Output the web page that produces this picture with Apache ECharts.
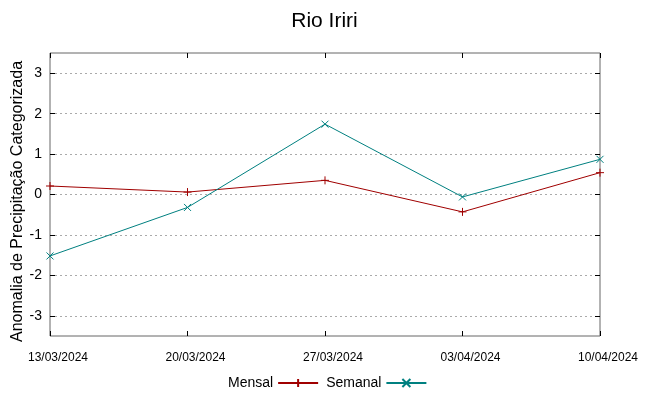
<!DOCTYPE html>
<html><head><meta charset="utf-8">
<script src="https://cdn.jsdelivr.net/npm/echarts@6/dist/echarts.min.js"></script>
<style>html,body{margin:0;padding:0;background:#fff}#c{width:649px;height:396px}</style>
</head><body><div id="c"></div>
<script>
const categories = ['13/03/2024','20/03/2024','27/03/2024','03/04/2024','10/04/2024'];
const mensal = [0.21, 0.06, 0.35, -0.43, 0.54];
const semanal = [-1.52, -0.32, 1.74, -0.06, 0.87];
const yTicks = [-3, -2, -1, 0, 1, 2, 3];

const sans = "'Liberation Sans',Arial,sans-serif";
const plusPath = 'path://M0,5L10,5M5,0L5,10';
const crossPath = 'path://M0,0L10,10M10,0L0,10';

const chart = echarts.init(document.getElementById('c'));
chart.setOption({
  animation: false,
  backgroundColor: '#fff',
  title: { text: 'Rio Iriri', left: 'center', top: 6,
    textStyle: { fontFamily: sans, fontSize: 21, fontWeight: 'normal', color: '#000' } },
  grid: { left: 50, right: 49, top: 53, bottom: 60, show: true, borderColor: '#666', borderWidth: 1,
    outerBoundsMode: 'none', containLabel: false },
  legend: {
    bottom: 1, left: 223, align: 'right', itemWidth: 40, itemHeight: 10, itemGap: 7,
    textStyle: { fontFamily: sans, fontSize: 14, color: '#000' },
    data: ['Mensal', 'Semanal']
  },
  xAxis: [{
    type: 'category', data: categories, boundaryGap: false,
    axisLine: { show: false, onZero: false },
    axisTick: { show: true, inside: true, length: 5, lineStyle: { color: '#000' } },
    axisLabel: { fontFamily: sans, fontSize: 12, color: '#000', margin: 16, padding: [0, 0, 0, 16] },
    splitLine: { show: false }
  }, {
    type: 'category', data: categories, boundaryGap: false, position: 'top',
    axisLine: { show: false, onZero: false },
    axisTick: { show: true, inside: true, length: 5, lineStyle: { color: '#000' } },
    axisLabel: { show: false }, splitLine: { show: false }
  }],
  yAxis: [{
    type: 'value', min: -3.5, max: 3.5, interval: 0.5,
    name: 'Anomalia de Precipitação Categorizada', nameLocation: 'middle', nameRotate: 90, nameGap: 24,
    nameMoveOverlap: false,
    nameTextStyle: { fontFamily: sans, fontSize: 16, color: '#000', padding: [0, 14, 0, 0] },
    axisLine: { show: false, onZero: false },
    axisTick: { show: true, inside: true, length: 5, customValues: yTicks, lineStyle: { color: '#000' } },
    axisLabel: { customValues: yTicks, fontFamily: sans, fontSize: 14, color: '#000', margin: 8 },
    splitLine: { show: true, lineStyle: { color: '#aaa', type: [2, 3] } }
  }, {
    type: 'value', min: -3.5, max: 3.5, interval: 0.5, position: 'right',
    axisLine: { show: false, onZero: false },
    axisTick: { show: true, inside: true, length: 5, customValues: yTicks, lineStyle: { color: '#000' } },
    axisLabel: { show: false }, splitLine: { show: false }
  }],
  series: [{
    name: 'Mensal', type: 'line', data: mensal, symbol: plusPath, symbolSize: 8,
    lineStyle: { color: '#a00000', width: 1 },
    itemStyle: { color: 'rgba(0,0,0,0)', borderColor: '#a00000', borderWidth: 1 }
  }, {
    name: 'Semanal', type: 'line', data: semanal, symbol: crossPath, symbolSize: 7,
    lineStyle: { color: '#008080', width: 1 },
    itemStyle: { color: 'rgba(0,0,0,0)', borderColor: '#008080', borderWidth: 1 }
  }]
});
</script></body></html>
